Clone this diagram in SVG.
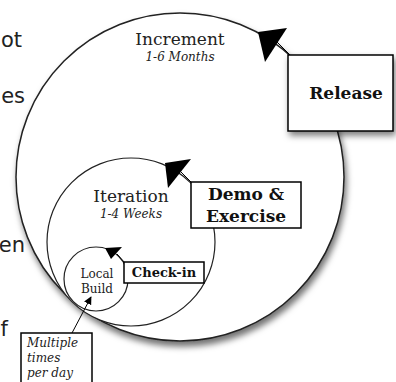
<svg xmlns="http://www.w3.org/2000/svg" width="396" height="382" viewBox="0 0 396 382">
  <defs>
    <filter id="sh" x="-20%" y="-20%" width="140%" height="140%">
      <feDropShadow dx="2" dy="5" stdDeviation="3" flood-color="#000" flood-opacity="0.55"/>
    </filter>
    <filter id="shb" x="-20%" y="-20%" width="140%" height="160%">
      <feDropShadow dx="2" dy="4" stdDeviation="3" flood-color="#000" flood-opacity="0.5"/>
    </filter>
    <marker id="ah" viewBox="0 0 10 10" refX="9" refY="5" markerWidth="8" markerHeight="8" markerUnits="userSpaceOnUse" orient="auto">
      <path d="M0,0 L10,5 L0,10 z" fill="#000"/>
    </marker>
    <style>
      .bg { font-family: "DejaVu Sans", "Open Sans", sans-serif; font-size: 21px; fill: #222; text-anchor: end; }
      .circ { fill: #fff; stroke: #222; }
      .box { fill: #fff; stroke: #000; stroke-width: 1.5; }
      .ttl { font-family: "DejaVu Serif", "Liberation Serif", serif; fill: #222; text-anchor: middle; }
      .sub { font-family: "DejaVu Serif", "Liberation Serif", serif; font-style: italic; font-size: 12px; fill: #222; text-anchor: middle; }
      .note { font-family: "DejaVu Serif", "Liberation Serif", serif; font-style: italic; font-size: 12px; fill: #222; text-anchor: start; }
      .bold { font-family: "DejaVu Serif", "Liberation Serif", serif; font-weight: bold; fill: #111; text-anchor: middle; }
      .line { stroke: #000; stroke-width: 1; fill: none; }
      .head { fill: #000; }
    </style>
  </defs>

  <rect width="396" height="382" fill="#fff"/>

  <g id="background-text">
    <text class="bg" x="22" y="47">ot</text>
    <text class="bg" x="25" y="103">es</text>
    <text class="bg" x="25" y="252">en</text>
    <text class="bg" x="8" y="336">f</text>
  </g>

  <g id="increment">
    <circle class="circ" cx="180" cy="177" r="164" stroke-width="1.5" filter="url(#sh)"/>
    <text class="ttl" x="180" y="45" font-size="17">Increment</text>
    <text class="sub" x="180" y="61">1-6 Months</text>
  </g>

  <g id="iteration">
    <circle class="circ" cx="131" cy="242" r="84" stroke-width="1.2"/>
    <text class="ttl" x="131" y="202" font-size="17">Iteration</text>
    <text class="sub" x="131" y="218">1-4 Weeks</text>
  </g>

  <g id="local-build">
    <circle class="circ" cx="96" cy="279" r="32" stroke-width="1.2"/>
    <text class="ttl" x="97" y="278" font-size="12">Local</text>
    <text class="ttl" x="97" y="293" font-size="12">Build</text>
  </g>

  <g id="connectors">
    <line class="line" x1="276" y1="41" x2="290" y2="55"/>
    <polygon class="head" points="258,32 287,28 265,62"/>
    <line class="line" x1="181" y1="172" x2="192" y2="183"/>
    <polygon class="head" points="165,163 191,159 168,188"/>
    <line class="line" x1="117" y1="254" x2="125" y2="263"/>
    <polygon class="head" points="105,248 122,247 111,259"/>
    <line class="line" x1="72" y1="333" x2="91" y2="297" marker-end="url(#ah)"/>
  </g>

  <g id="release">
    <rect class="box" x="288" y="55" width="105" height="76" filter="url(#shb)"/>
    <text class="bold" x="346" y="99" font-size="17">Release</text>
  </g>

  <g id="demo-exercise">
    <rect class="box" x="191" y="182" width="110" height="46"/>
    <text class="bold" x="246" y="200" font-size="17">Demo &amp;</text>
    <text class="bold" x="246" y="222" font-size="17">Exercise</text>
  </g>

  <g id="check-in">
    <rect class="box" x="124" y="262" width="80" height="21"/>
    <text class="bold" x="164" y="277" font-size="13">Check-in</text>
  </g>

  <g id="multiple">
    <rect class="box" x="21" y="333" width="71" height="60"/>
    <text class="note" x="27" y="347">Multiple</text>
    <text class="note" x="27" y="362">times</text>
    <text class="note" x="27" y="377">per day</text>
  </g>
</svg>
